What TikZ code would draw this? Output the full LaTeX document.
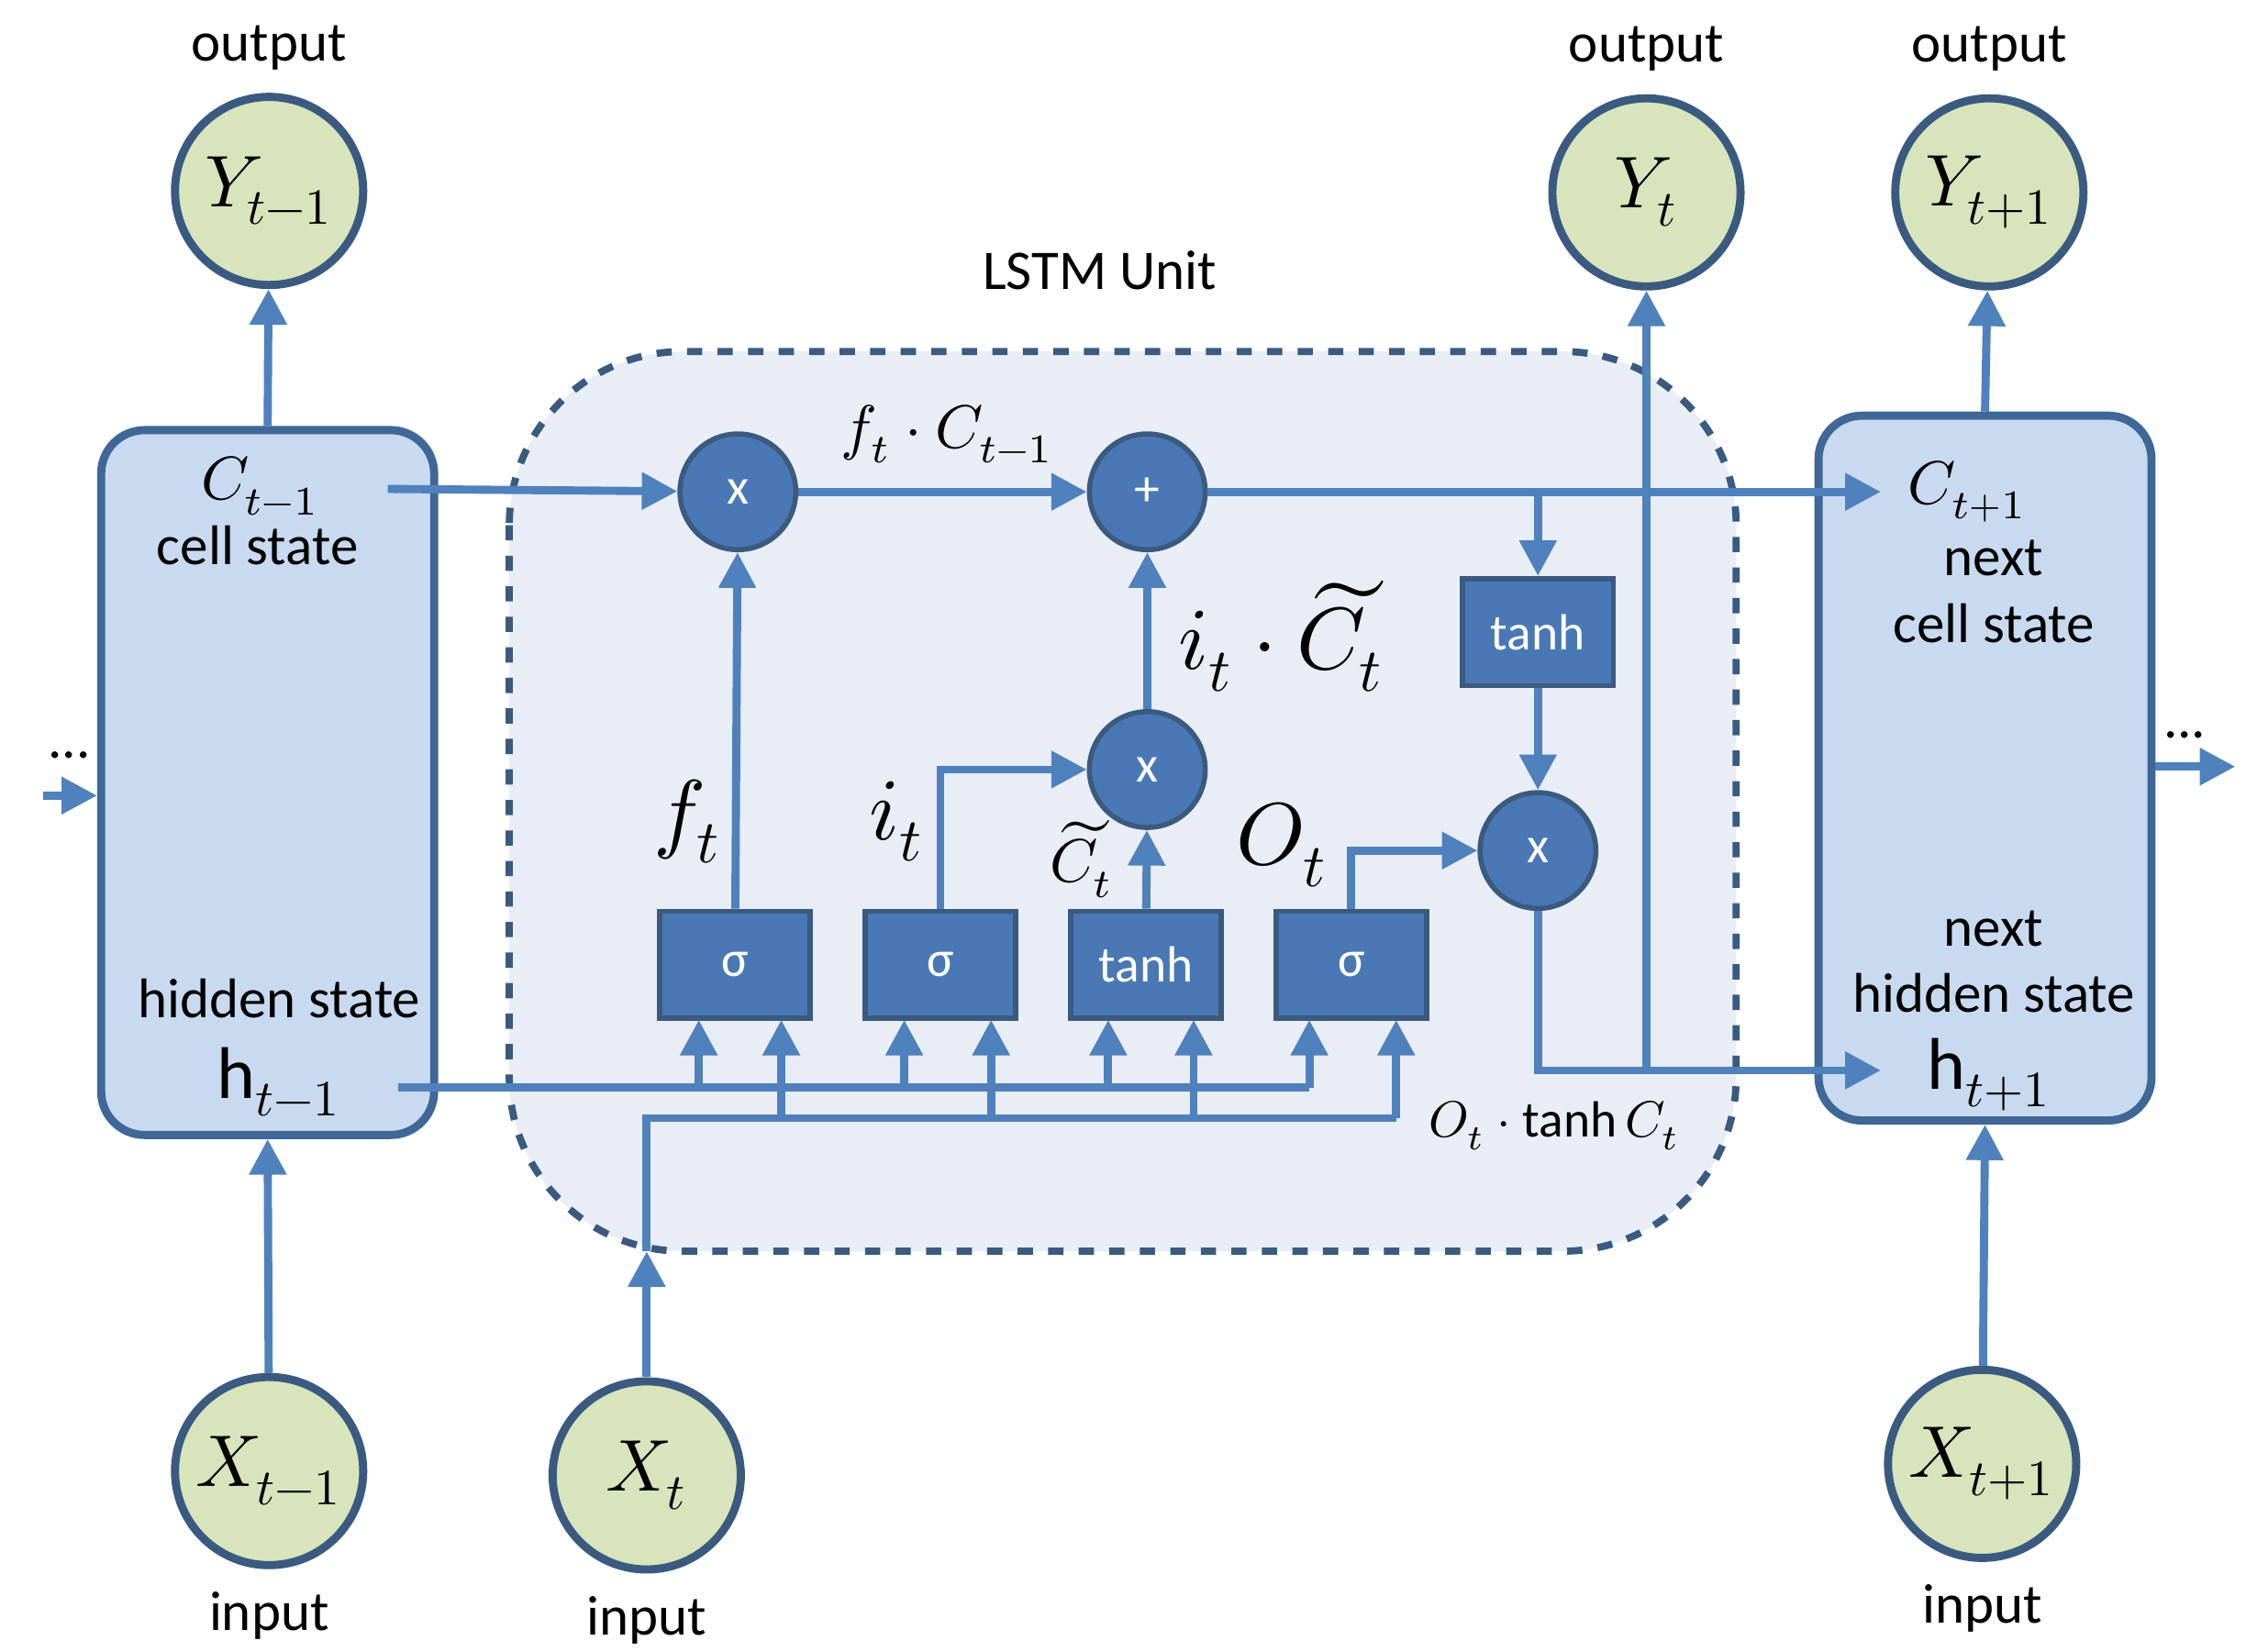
\documentclass[tikz,border=0pt]{standalone}
\usepackage{amsmath}
\usepackage{fontspec}
\setmainfont{Carlito}
\usepackage{unicode-math}
\setmathfont{Latin Modern Math}
\usetikzlibrary{arrows.meta,positioning,calc}

\definecolor{lineblue}{HTML}{4F81BD}
\definecolor{opblue}{HTML}{4A78B4}
\definecolor{boxfill}{HTML}{C9DAF0}
\definecolor{unitfill}{HTML}{E9EEF6}
\definecolor{greenfill}{HTML}{D8E4BC}
\definecolor{darkedge}{HTML}{3B5A80}

\tikzset{
  flow/.style={draw=lineblue,line width=1.6pt,-{Triangle[length=7pt,width=7pt]}},
  wire/.style={draw=lineblue,line width=1.6pt},
  io/.style={circle,draw=darkedge,line width=1.6pt,fill=greenfill,minimum size=1.3cm,inner sep=0pt,font=\Large},
  op/.style={circle,draw=darkedge,line width=1pt,fill=opblue,minimum size=0.8cm,inner sep=0pt,text=white,font=\normalsize},
  gate/.style={rectangle,draw=darkedge,line width=1pt,fill=opblue,minimum width=1.04cm,minimum height=0.74cm,text=white,font=\normalsize},
  cellbox/.style={rectangle,rounded corners=0.3cm,draw=lineblue!80!black,line width=1.6pt,fill=boxfill,minimum width=2.3cm,minimum height=4.87cm},
  lbl/.style={font=\fontsize{11}{13}\selectfont}
}

\begin{document}
\begin{tikzpicture}[x=0.01cm,y=-0.01cm]
\useasboundingbox (0,0) rectangle (1560,1142);

% LSTM unit
\draw[dashed,rounded corners=1.2cm,draw=darkedge,line width=1.4pt,fill=unitfill] (352,243) rectangle (1200,865);
\node[lbl] (unit) at (760,187) {LSTM Unit};

% cells
\node[cellbox] (prev) at (185,541) {};
\node[cellbox] (next) at (1372,531) {};

% inputs and outputs
\node[io] (yprev) at (186,132) {$Y_{t-1}$};
\node[io] (ycur) at (1138,133) {$Y_t$};
\node[io] (ynext) at (1375,133) {$Y_{t+1}$};
\node[io] (xprev) at (186,1017) {$X_{t-1}$};
\node[io] (xcur) at (447,1020) {$X_t$};
\node[io] (xnext) at (1370,1012) {$X_{t+1}$};
\node[lbl,above=1pt of yprev] {output};
\node[lbl,above=1pt of ycur] {output};
\node[lbl,above=1pt of ynext] {output};
\node[lbl,below=1pt of xprev] {input};
\node[lbl,below=1pt of xcur] {input};
\node[lbl,below=1pt of xnext] {input};

% operations
\node[op] (mulf) at (510,340) {x};
\node[op] (add) at (793,340) {+};
\node[op] (muli) at (793,532) {x};
\node[op] (mulo) at (1063,588) {x};
\node[gate] (sf) at (508,667) {σ};
\node[gate] (si) at (650,667) {σ};
\node[gate] (tc) at (792,667) {tanh};
\node[gate] (so) at (934,667) {σ};
\node[gate] (tout) at (1063,437) {tanh};

% texts in cells
\node[font=\large] (cprev) at (180,336) {$C_{t-1}$};
\node[lbl] at (178,377) {cell state};
\node[lbl] at (193,690) {hidden state};
\node[font=\Large] (hprev) at (193,748) {$\mathrm{h}_{t-1}$};
\node[font=\large] (cnext) at (1360,340) {$C_{t+1}$};
\node[lbl,align=center] at (1378,409) {next\\cell state};
\node[lbl,align=center] at (1378,665) {next\\hidden state};
\node[font=\Large] (hnext) at (1375,743) {$\mathrm{h}_{t+1}$};

% labels
\node[font=\large] at (655,300) {$f_t\cdot C_{t-1}$};
\node[font=\LARGE,anchor=west] at (802,440) {$i_t\cdot\widetilde{C}_t$};
\node[font=\LARGE] at (475,568) {$f_t$};
\node[font=\LARGE] at (620,568) {$i_t$};
\node[font=\large,anchor=east] at (782,594) {$\widetilde{C}_t$};
\node[font=\LARGE,anchor=east] at (930,584) {$O_t$};
\node[font=\normalsize,anchor=west] at (975,778) {$O_t\cdot\tanh C_t$};

% cell state path
\coordinate (cin) at (268,338);
\coordinate (cout) at (1300,340);
\draw[flow] (cin) -- (mulf);
\draw[flow] (mulf) -- (add);
\draw[flow] (add) -- (cout);
\draw[flow] (1063,340) -- (tout);
\draw[flow] (tout) -- (mulo);
\coordinate (hout) at (1300,740);
\draw[flow] (mulo) |- (hout);
\draw[flow] (1138,740) -- (ycur);

% gates into ops
\draw[flow] (sf) -- (mulf);
\draw[flow] (si) |- (muli);
\draw[flow] (tc) -- (muli);
\draw[flow] (muli) -- (add);
\draw[flow] (so) |- (mulo);

% hidden state feed
\draw[wire] (275,752) -- (905,752);
\foreach \g/\x in {sf/483,si/625,tc/766,so/905}
  \draw[flow] (\x,752) -- (\x,705);
% input feed
\draw[flow] (xcur) -- (447,865);
\draw[wire] (447,865) |- (965,773);
\foreach \x in {540,685,825,965}
  \draw[flow] (\x,773) -- (\x,705);

% neighbours
\draw[flow] (prev.north) -- (yprev);
\draw[flow] (xprev) -- (prev.south);
\draw[flow] (next.north) -- (ynext);
\draw[flow] (xnext) -- (next.south);
\coordinate (lin) at (30,550);
\coordinate (rout) at (1545,530);
\draw[flow] (lin) -- (prev.west |- lin);
\draw[flow] (next.east |- rout) -- (rout);
\node[lbl] at (48,522) {...};
\node[lbl] at (1510,508) {...};
\end{tikzpicture}
\end{document}
